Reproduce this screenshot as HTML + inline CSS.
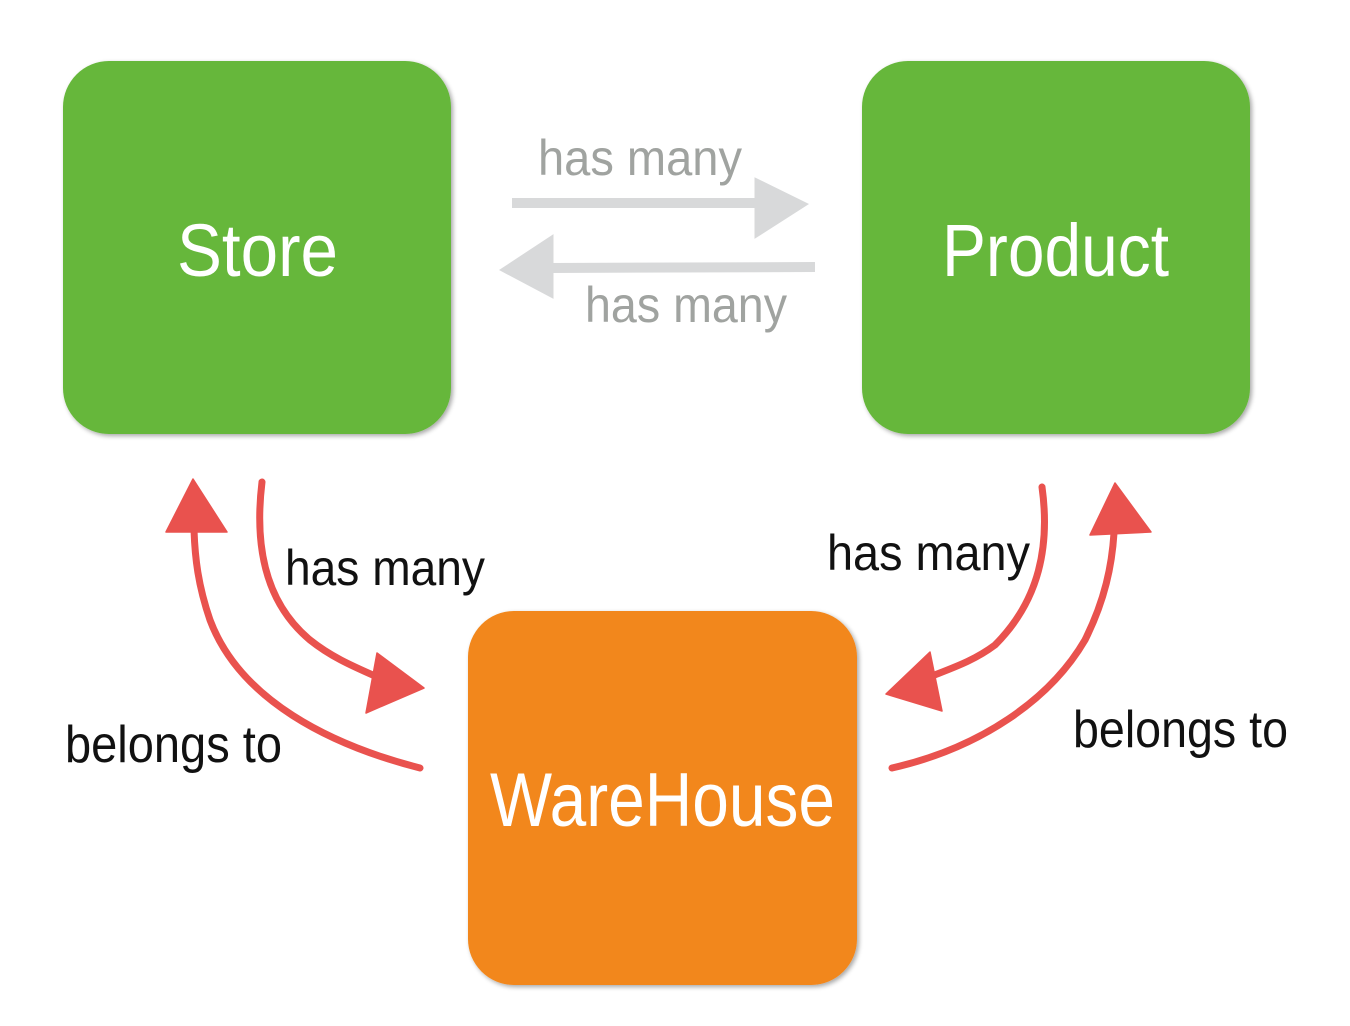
<!DOCTYPE html>
<html>
<head>
<meta charset="utf-8">
<style>
  html, body { margin: 0; padding: 0; background: #ffffff; }
  body { width: 1350px; height: 1026px; overflow: hidden; }
  svg { display: block; }
  text { font-family: "Liberation Sans", "DejaVu Sans", sans-serif; }
</style>
</head>
<body>
<svg width="1350" height="1026" viewBox="0 0 1350 1026" xmlns="http://www.w3.org/2000/svg">
  <defs>
    <filter id="sh" x="-10%" y="-10%" width="120%" height="120%">
      <feGaussianBlur in="SourceAlpha" stdDeviation="2.5"/>
      <feOffset dx="2" dy="2" result="b"/>
      <feComponentTransfer><feFuncA type="linear" slope="0.35"/></feComponentTransfer>
      <feMerge><feMergeNode/><feMergeNode in="SourceGraphic"/></feMerge>
    </filter>
  </defs>

  <!-- Boxes -->
  <rect x="63" y="61" width="388" height="373" rx="46" ry="46" fill="#66b73a" filter="url(#sh)"/>
  <rect x="862" y="61" width="388" height="373" rx="46" ry="46" fill="#66b73a" filter="url(#sh)"/>
  <rect x="468" y="611" width="389" height="374" rx="46" ry="46" fill="#f2871b" filter="url(#sh)"/>

  <!-- Box labels -->
  <text x="177" y="276" font-size="74" fill="#ffffff" textLength="161" lengthAdjust="spacingAndGlyphs">Store</text>
  <text x="942" y="276" font-size="74" fill="#ffffff" textLength="227" lengthAdjust="spacingAndGlyphs">Product</text>
  <text x="490" y="826" font-size="76" fill="#ffffff" textLength="345" lengthAdjust="spacingAndGlyphs">WareHouse</text>

  <!-- Gray arrows -->
  <g fill="#d8d9da" stroke="#d8d9da">
    <path d="M512,203 L760,203" stroke-width="10" fill="none"/>
    <polygon points="755,178 755,238 808,204" stroke-width="1"/>
    <path d="M550,268 L815,267" stroke-width="10" fill="none"/>
    <polygon points="553,235 553,298 500,270" stroke-width="1"/>
  </g>
  <text x="538" y="175" font-size="50" fill="#a0a3a0" textLength="204" lengthAdjust="spacingAndGlyphs">has many</text>
  <text x="585" y="322" font-size="50" fill="#a0a3a0" textLength="202" lengthAdjust="spacingAndGlyphs">has many</text>

  <!-- Red arrows -->
  <g fill="none" stroke="#e9524e" stroke-width="7" stroke-linecap="round">
    <path d="M420,768 C330,745 240,700 210,620 C198,585 195,558 194,530"/>
    <path d="M262,482 C255,540 262,600 310,640 C330,656 350,665 375,676"/>
    <path d="M1042,487 C1050,545 1040,600 995,645 C975,660 955,667 932,676"/>
    <path d="M892,768 C980,748 1050,700 1085,640 C1105,600 1112,565 1114,533"/>
  </g>
  <g fill="#e9524e" stroke="#e9524e" stroke-width="1.5" stroke-linejoin="round">
    <polygon points="193,479 166,532 227,532"/>
    <polygon points="377,653 366,713 424,688"/>
    <polygon points="930,652 942,711 886,694"/>
    <polygon points="1115,483 1090,535 1151,532"/>
  </g>

  <!-- Relationship labels -->
  <text x="285" y="585" font-size="50" fill="#111111" textLength="200" lengthAdjust="spacingAndGlyphs">has many</text>
  <text x="827" y="570" font-size="50" fill="#111111" textLength="203" lengthAdjust="spacingAndGlyphs">has many</text>
  <text x="65" y="762" font-size="52" fill="#111111" textLength="217" lengthAdjust="spacingAndGlyphs">belongs to</text>
  <text x="1073" y="747" font-size="52" fill="#111111" textLength="215" lengthAdjust="spacingAndGlyphs">belongs to</text>
</svg>
</body>
</html>
